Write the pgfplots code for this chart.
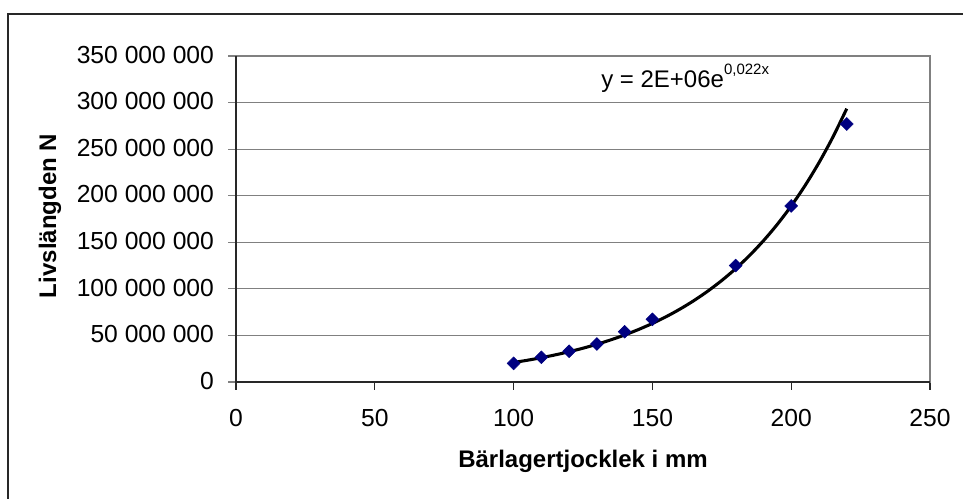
\documentclass[border=0pt]{standalone}
\usepackage{fontspec}
\setmainfont{Liberation Sans}
\usepackage{pgfplots}
\pgfplotsset{compat=1.18}
\definecolor{gridgray}{RGB}{128,128,128}
\definecolor{navymark}{RGB}{0,0,128}
\definecolor{axisdark}{RGB}{40,40,40}

\begin{document}
\begin{tikzpicture}[x=0.75pt,y=0.75pt]
\path[use as bounding box] (0,0) rectangle (963,499);
% chart frame
\draw[axisdark, line width=1.2pt] (8,-2) -- (8,485) -- (965,485);
\begin{axis}[
  at={(177pt,87.75pt)}, anchor=south west,
  width=520.5pt, height=244.5pt, scale only axis,
  xmin=0, xmax=250, ymin=0, ymax=350000000,
  xtick={0,50,100,150,200,250},
  ytick={0,50000000,100000000,150000000,200000000,250000000,300000000,350000000},
  yticklabels={0,50 000 000,100 000 000,150 000 000,200 000 000,250 000 000,300 000 000,350 000 000},
  scaled y ticks=false,
  ymajorgrids,
  grid style={gridgray, line width=0.9pt},
  axis line style={gridgray, line width=0.9pt},
  tick align=outside, major tick length=6pt,
  tick pos=left,
  x tick style={axisdark, line width=0.9pt},
  y tick style={gridgray, line width=0.9pt},
  ticklabel style={font=\fontsize{18.5}{20}\selectfont},
  xticklabel style={yshift=-11pt},
  yticklabel style={xshift=-7pt, yshift=1pt},
  /pgf/number format/assume math mode=true,
  clip=false,
]
\addplot[only marks, mark=square*, mark size=3.4pt,
  mark options={rotate=45, fill=navymark, draw=navymark}] coordinates {
  (100,20000000) (110,26500000) (120,33000000) (130,40800000)
  (140,54000000) (150,67300000) (180,125000000) (200,189000000)
  (220,277000000)
};
% exponential trendline
\addplot[black, line width=2.3pt, smooth] coordinates {
  (100,20940000) (105,23370000) (110,26090000) (115,29120000)
  (120,32510000) (125,36290000) (130,40510000) (135,45220000)
  (140,50480000) (145,56350000) (150,62900000) (155,70210000)
  (160,78380000) (165,87490000) (170,97670000) (175,109020000)
  (180,121700000) (185,135850000) (190,151650000) (195,169280000)
  (200,188970000) (205,210940000) (210,235470000) (215,262850000)
  (220,293410000)
};
\draw[axisdark, line width=1.2pt] (rel axis cs:0,1) -- (rel axis cs:0,0) -- (rel axis cs:1,0);
\end{axis}
\node[anchor=base west, inner sep=0pt, font=\fontsize{18}{20}\selectfont]
  at (601,411) {y = 2E+06e\raisebox{9.75pt}{\fontsize{11.25}{12}\selectfont 0,022x}};
\node[rotate=90, font=\bfseries\fontsize{18}{20}\selectfont] at (50,283) {Livslängden N};
\node[anchor=base, font=\bfseries\fontsize{18}{20}\selectfont] at (583,31) {Bärlagertjocklek i mm};
\end{tikzpicture}
\end{document}
